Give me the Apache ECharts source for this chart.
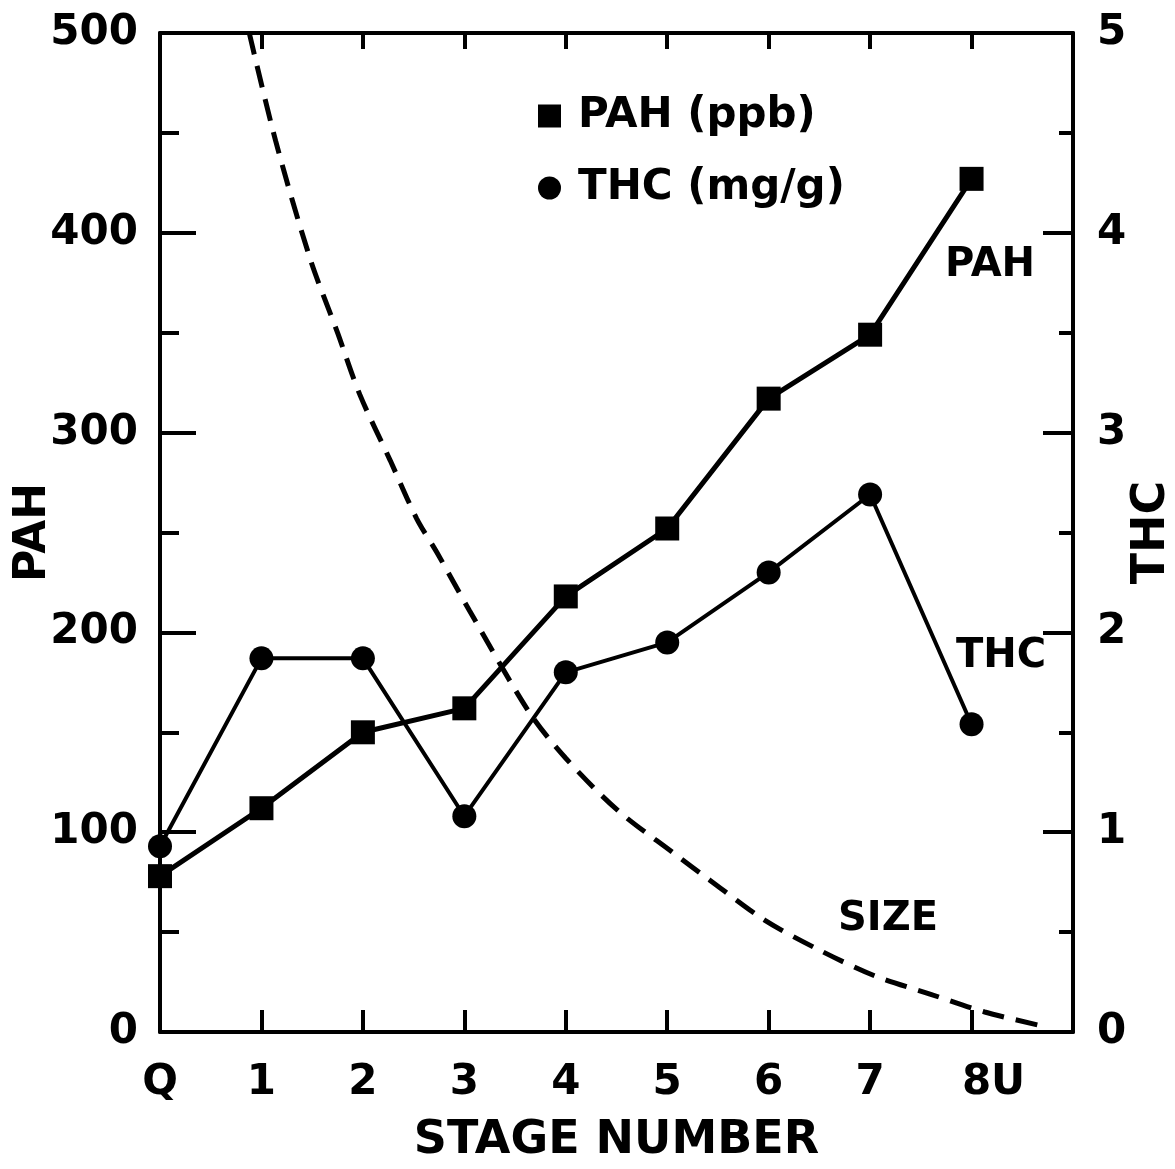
<!DOCTYPE html>
<html>
<head>
<meta charset="utf-8">
<script src="https://cdn.jsdelivr.net/npm/echarts@6/dist/echarts.min.js"></script>
<style>
html,body{margin:0;padding:0;background:#fff;}
#chart{width:1175px;height:1169px;}
</style>
</head>
<body>
<div id="chart"></div>
<script>
// ---- data ----
var stages = [0, 1, 2, 3, 4, 5, 6, 7, 8];
var stageLabels = ['Q', '1', '2', '3', '4', '5', '6', '7', '8U'];
var pahValues = [78, 112, 150, 162, 218, 252, 317, 349, 427];      // ppb, left axis
var thcValues = [0.93, 1.87, 1.87, 1.08, 1.80, 1.95, 2.30, 2.69, 1.54]; // mg/g, right axis
var sizeX = [0.88, 1.14, 1.48, 1.75, 1.97, 2.27, 2.53, 2.73, 3.05, 3.64, 4.0, 4.51, 5.05, 5.42, 5.96, 6.5, 7.05, 7.59, 8.13, 8.7];
var sizeY = [500, 446, 387, 350, 319, 286, 257, 240, 211, 160, 137, 111, 90, 76, 56, 41, 28, 19, 10, 3];
var leftTicks = [0, 100, 200, 300, 400, 500];
var rightTicks = [0, 1, 2, 3, 4, 5];

function pairs(xs, ys) { return xs.map(function (x, i) { return [x, ys[i]]; }); }

var ink = '#000';
var font = 'DejaVu Sans';

var chart = echarts.init(document.getElementById('chart'), null, { renderer: 'canvas' });
chart.setOption({
  animation: false,
  backgroundColor: '#fff',
  grid: { left: 160, right: 102, top: 33, bottom: 137, containLabel: false, outerBoundsMode: 'none' },
  legend: {
    orient: 'vertical',
    left: 533, top: 86,
    itemWidth: 23, itemHeight: 23, itemGap: 22,
    textStyle: { color: ink, fontSize: 42, fontFamily: font, fontWeight: 'bold', lineHeight: 50, padding: [0, 0, 0, 12] },
    data: [
      { name: 'PAH (ppb)', icon: 'rect' },
      { name: 'THC (mg/g)', icon: 'circle' }
    ]
  },
  xAxis: [
    {
      type: 'value', position: 'bottom', min: 0, max: 9, interval: 1,
      name: 'STAGE NUMBER', nameLocation: 'middle', nameGap: 86,
      nameTextStyle: { color: ink, fontSize: 46, fontFamily: font, fontWeight: 'bold' },
      axisLine: { show: true, onZero: false, lineStyle: { color: ink, width: 4 } },
      axisTick: { show: true, inside: true, length: 22, lineStyle: { color: ink, width: 4 } },
      axisLabel: {
        color: ink, fontSize: 42, fontFamily: font, fontWeight: 'bold', margin: 30,
        formatter: function (v) {
          var i = stages.indexOf(v);
          if (i < 0) return '';
          return i === stages.length - 1 ? '{wide|' + stageLabels[i] + '}' : stageLabels[i];
        },
        rich: { wide: { color: ink, fontSize: 42, fontFamily: font, fontWeight: 'bold', padding: [0, 0, 0, 44] } }
      },
      splitLine: { show: false }
    },
    {
      type: 'value', position: 'top', min: 0, max: 9, interval: 1,
      axisLine: { show: true, onZero: false, lineStyle: { color: ink, width: 4 } },
      axisTick: { show: true, inside: true, length: 16, lineStyle: { color: ink, width: 4 } },
      axisLabel: { show: false },
      splitLine: { show: false }
    }
  ],
  yAxis: [
    {
      type: 'value', position: 'left', min: leftTicks[0], max: leftTicks[leftTicks.length - 1], interval: 100,
      name: 'PAH', nameLocation: 'middle', nameGap: 104, nameRotate: 90, nameMoveOverlap: false,
      nameTextStyle: { color: ink, fontSize: 44, fontFamily: font, fontWeight: 'bold' },
      axisLine: { show: true, onZero: false, lineStyle: { color: ink, width: 4 } },
      axisTick: { show: true, inside: true, length: 36, lineStyle: { color: ink, width: 4 } },
      minorTick: { show: true, splitNumber: 2, length: 19, lineStyle: { color: ink, width: 4 } },
      axisLabel: { color: ink, fontSize: 42, fontFamily: font, fontWeight: 'bold', margin: 22 },
      splitLine: { show: false }, minorSplitLine: { show: false }
    },
    {
      type: 'value', position: 'right', min: rightTicks[0], max: rightTicks[rightTicks.length - 1], interval: 1,
      name: 'THC', nameLocation: 'middle', nameGap: 56, nameRotate: 90, nameMoveOverlap: false,
      nameTextStyle: { color: ink, fontSize: 46, fontFamily: font, fontWeight: 'bold' },
      axisLine: { show: true, onZero: false, lineStyle: { color: ink, width: 4 } },
      axisTick: { show: true, inside: true, length: 30, lineStyle: { color: ink, width: 4 } },
      minorTick: { show: true, splitNumber: 2, length: 14, lineStyle: { color: ink, width: 4 } },
      axisLabel: { color: ink, fontSize: 42, fontFamily: font, fontWeight: 'bold', margin: 24 },
      splitLine: { show: false }, minorSplitLine: { show: false }
    }
  ],
  series: [
    {
      name: 'SIZE', type: 'line', xAxisIndex: 0, yAxisIndex: 0,
      data: pairs(sizeX, sizeY), smooth: 0.3, symbol: 'none',
      lineStyle: { color: ink, width: 5, type: [22, 12] },
      z: 1
    },
    {
      name: 'PAH (ppb)', type: 'line', xAxisIndex: 0, yAxisIndex: 0,
      data: pairs(stages, pahValues),
      symbol: 'rect', symbolSize: 24,
      itemStyle: { color: ink }, lineStyle: { color: ink, width: 5 },
      z: 3
    },
    {
      name: 'THC (mg/g)', type: 'line', xAxisIndex: 0, yAxisIndex: 1,
      data: pairs(stages, thcValues),
      symbol: 'circle', symbolSize: 24,
      itemStyle: { color: ink }, lineStyle: { color: ink, width: 4 },
      z: 3
    }
  ],
  graphic: [
    { type: 'text', left: 945, top: 246, style: { text: 'PAH', fill: ink, fontSize: 40, fontFamily: font, fontWeight: 'bold' } },
    { type: 'text', left: 956, top: 637, style: { text: 'THC', fill: ink, fontSize: 40, fontFamily: font, fontWeight: 'bold' } },
    { type: 'text', left: 838, top: 900, style: { text: 'SIZE', fill: ink, fontSize: 40, fontFamily: font, fontWeight: 'bold' } }
  ]
});
</script>
</body>
</html>
